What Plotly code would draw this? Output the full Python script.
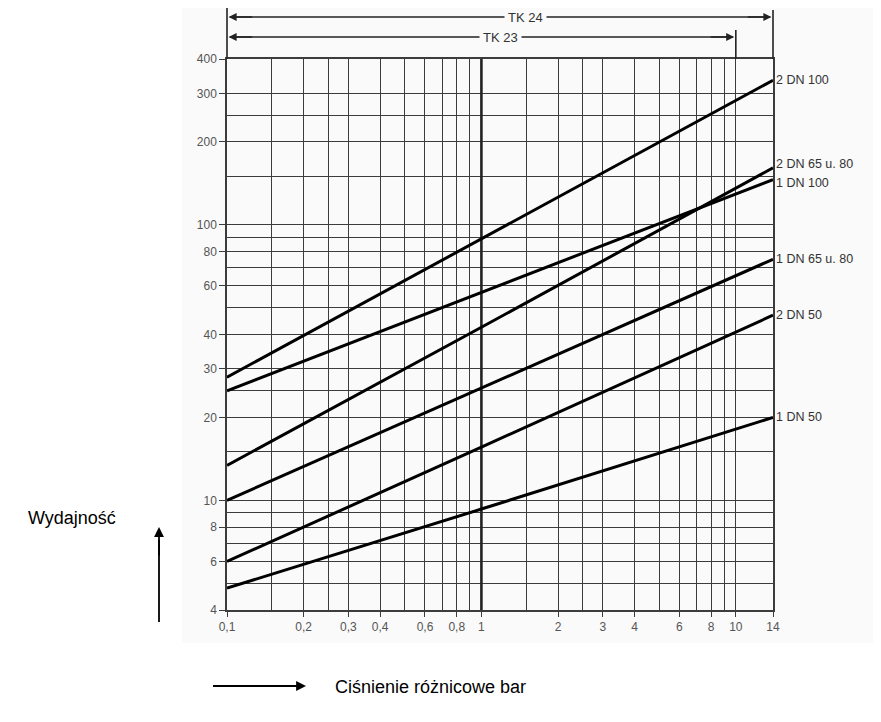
import numpy as np
import plotly.graph_objects as go

# ---- data ----
pressure = [0.1, 1, 14]
series_names = ["2 DN 100", "2 DN 65 u. 80", "1 DN 100", "1 DN 65 u. 80", "2 DN 50", "1 DN 50"]
flow_2dn100 = [28, 89, 335]
flow_2dn65 = [13.4, 42.5, 161]
flow_1dn100 = [25, 57, 146]
flow_1dn65 = [10, 25.6, 75]
flow_2dn50 = [6, 15.6, 47]
flow_1dn50 = [4.8, 9.3, 20]
series_values = [flow_2dn100, flow_2dn65, flow_1dn100, flow_1dn65, flow_2dn50, flow_1dn50]
label_shift = [0, 4, -3, 0, 0, 0]

x_tickvals = [0.1, 0.2, 0.3, 0.4, 0.6, 0.8, 1, 2, 3, 4, 6, 8, 10, 14]
x_ticktext = ["0,1", "0,2", "0,3", "0,4", "0,6", "0,8", "1", "2", "3", "4", "6", "8", "10", "14"]
x_minor = [0.15, 0.25, 0.5, 0.7, 0.9, 1.5, 2.5, 5, 7, 9]
y_tickvals = [4, 6, 8, 10, 20, 30, 40, 60, 80, 100, 200, 300, 400]
y_ticktext = ["4", "6", "8", "10", "20", "30", "40", "60", "80", "100", "200", "300", "400"]
y_minor = [5, 7, 9, 15, 25, 50, 70, 90, 150, 250]

x_min, x_max = 0.1, 14
y_min, y_max = 4, 400
tk23_end = 10

GRID = "#3c3c3c"
TXT = "#555555"
BG = "#fafafa"
FONT = "Liberation Sans, Arial"

fig = go.Figure()

# thicker line at x = 1
fig.add_trace(go.Scatter(x=[1, 1], y=[y_min, y_max], mode="lines",
                         line=dict(color="#222222", width=2.6), hoverinfo="skip", showlegend=False))

for name, vals in zip(series_names, series_values):
    fig.add_trace(go.Scatter(x=pressure, y=vals, mode="lines", name=name,
                             line=dict(color="black", width=3), showlegend=False))

for name, vals, sh in zip(series_names, series_values, label_shift):
    fig.add_annotation(xref="paper", x=1, yref="y", y=np.log10(vals[-1]), text=name,
                       showarrow=False, xanchor="left", yanchor="middle", xshift=1, yshift=sh,
                       font=dict(family=FONT, size=12.5, color="#333333"))

# page body offset of 8px
OFF = 8
W, H = 881, 722
pw, ph = 546, 551
ml, mt = 227 - OFF, 59 - OFF
mr = W - ml - pw
mb = H - mt - ph

def px2paper_x(px):
    return (px - OFF - ml) / pw

def px2paper_y(py):
    return (mt + ph - (py - OFF)) / ph

x_tk23 = np.log10(tk23_end / x_min) / np.log10(x_max / x_min)

shapes = []
shapes.append(dict(type="rect", xref="paper", yref="paper", x0=px2paper_x(182), x1=px2paper_x(890),
                   y0=px2paper_y(643), y1=px2paper_y(0), fillcolor=BG, line=dict(width=0), layer="below"))

line_style = dict(color="#222222", width=1.6)
shapes.append(dict(type="line", xref="paper", yref="paper", x0=0, x1=0, y0=1, y1=px2paper_y(8), line=line_style))
shapes.append(dict(type="line", xref="paper", yref="paper", x0=1, x1=1, y0=1, y1=px2paper_y(10), line=line_style))
shapes.append(dict(type="line", xref="paper", yref="paper", x0=x_tk23, x1=x_tk23, y0=1, y1=px2paper_y(30), line=line_style))

y24 = px2paper_y(17)
y23 = px2paper_y(37)
shapes.append(dict(type="line", xref="paper", yref="paper", x0=0.005, x1=0.995, y0=y24, y1=y24, line=line_style))
shapes.append(dict(type="line", xref="paper", yref="paper", x0=0.005, x1=x_tk23 - 0.005, y0=y23, y1=y23, line=line_style))

y_bottom_arrow = 686
shapes.append(dict(type="line", xref="paper", yref="paper", x0=px2paper_x(213), x1=px2paper_x(295),
                   y0=px2paper_y(y_bottom_arrow), y1=px2paper_y(y_bottom_arrow), line=dict(color="black", width=1.8)))
shapes.append(dict(type="line", xref="paper", yref="paper", x0=px2paper_x(159), x1=px2paper_x(159),
                   y0=px2paper_y(622), y1=px2paper_y(540), line=dict(color="black", width=1.8)))

fig.update_layout(shapes=shapes)

def arrowhead(x, y, ax, ay, color="#222222", size=1.0, width=1.6):
    fig.add_annotation(xref="paper", yref="paper", x=x, y=y, ax=ax, ay=ay, axref="pixel", ayref="pixel",
                       text="", showarrow=True, arrowhead=2, arrowsize=size, arrowwidth=width, arrowcolor=color)

arrowhead(0.003, y24, 25, 0)
arrowhead(0.997, y24, -25, 0)
arrowhead(0.003, y23, 25, 0)
arrowhead(x_tk23 - 0.003, y23, -25, 0)
arrowhead(px2paper_x(306), px2paper_y(y_bottom_arrow), -30, 0, color="black", size=1.1, width=1.8)
arrowhead(px2paper_x(159), px2paper_y(527), 0, 30, color="black", size=1.1, width=1.8)

fig.add_annotation(xref="paper", yref="paper", x=px2paper_x(525), y=y24, text="TK 24", showarrow=False,
                   xanchor="center", yanchor="middle",
                   bgcolor=BG, borderpad=3, font=dict(family=FONT, size=13, color="#333333"))
fig.add_annotation(xref="paper", yref="paper", x=px2paper_x(500), y=y23, text="TK 23", showarrow=False,
                   xanchor="center", yanchor="middle",
                   bgcolor=BG, borderpad=3, font=dict(family=FONT, size=13, color="#333333"))

fig.add_annotation(xref="paper", yref="paper", x=px2paper_x(118), y=px2paper_y(518), text="Wydajność",
                   showarrow=False, xanchor="right", yanchor="middle", font=dict(family=FONT, size=18, color="black"))
fig.add_annotation(xref="paper", yref="paper", x=px2paper_x(333), y=px2paper_y(y_bottom_arrow + 1),
                   text="Ciśnienie różnicowe bar",
                   showarrow=False, xanchor="left", yanchor="middle", font=dict(family=FONT, size=18, color="black"))

fig.update_xaxes(type="log", range=[np.log10(x_min), np.log10(x_max)], tickmode="array",
                 tickvals=x_tickvals, ticktext=x_ticktext, ticks="outside", ticklen=5, tickcolor=GRID,
                 showgrid=True, gridcolor=GRID, gridwidth=1.3,
                 minor=dict(tickmode="array", tickvals=x_minor, showgrid=True, gridcolor=GRID, gridwidth=1.3, ticks=""),
                 showline=True, linecolor=GRID, linewidth=1.5, mirror=True, zeroline=False,
                 tickfont=dict(family=FONT, size=12, color=TXT))
fig.update_yaxes(type="log", range=[np.log10(y_min), np.log10(y_max)], tickmode="array",
                 tickvals=y_tickvals, ticktext=y_ticktext, ticks="outside", ticklen=6, tickcolor=GRID,
                 showgrid=True, gridcolor=GRID, gridwidth=1.3,
                 minor=dict(tickmode="array", tickvals=y_minor, showgrid=True, gridcolor=GRID, gridwidth=1.3, ticks=""),
                 showline=True, linecolor=GRID, linewidth=1.5, mirror=True, zeroline=False,
                 tickfont=dict(family=FONT, size=12, color=TXT))

fig.update_layout(width=W, height=H, margin=dict(l=ml, r=mr, t=mt, b=mb, pad=0),
                  paper_bgcolor="white", plot_bgcolor=BG, showlegend=False)

fig.write_html("out.html")
